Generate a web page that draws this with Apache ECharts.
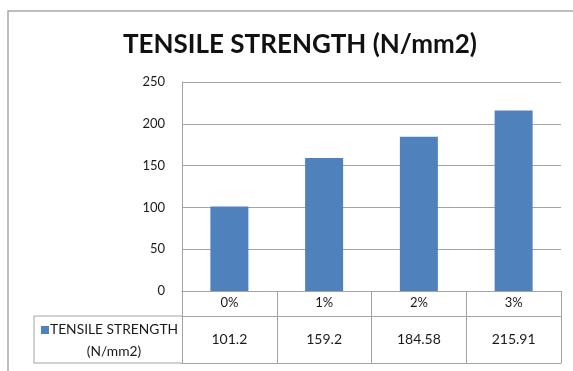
<!DOCTYPE html>
<html>
<head>
<meta charset="utf-8">
<style>
  html, body { margin: 0; padding: 0; background: #ffffff; }
  #chart { width: 573px; height: 371px; }
</style>
<script src="https://cdn.jsdelivr.net/npm/echarts@6/dist/echarts.min.js"></script>
</head>
<body>
<div id="chart"></div>
<script>
// Tensile strength for each additive percentage
const categories = ['0%', '1%', '2%', '3%'];
const tensileStrength = [101.2, 159.2, 184.58, 215.91];
const seriesName = 'TENSILE STRENGTH (N/mm2)';
const yTicks = [0, 50, 100, 150, 200, 250];

// Layout of the plot and its data table
const GRID_LEFT = 182, GRID_RIGHT = 12, GRID_TOP = 82, GRID_BOTTOM = 80;
const ROW1 = 25, ROW2 = 47;            // heights of the category row and value row
const LEGEND_CELL_LEFT = 34;
const BAR_COLOR = '#4f81bd';
const LINE_COLOR = '#a3a3a3';
const TEXT_COLOR = '#1a1a1a';
const FONT = 'Lato, "Open Sans", sans-serif';

const chart = echarts.init(document.getElementById('chart'), null, { renderer: 'canvas' });

const H = 371;
const tableTop = H - GRID_BOTTOM;
const rowSplit = tableTop + ROW1;
const tableBottom = rowSplit + ROW2;

chart.setOption({
  animation: false,
  backgroundColor: '#ffffff',
  title: {
    text: 'TENSILE STRENGTH (N/mm2)',
    top: 27,
    left: 295,
    textAlign: 'center',
    textStyle: { fontFamily: FONT, fontWeight: 'bold', fontSize: 26, color: '#111111' }
  },
  grid: { left: GRID_LEFT, right: GRID_RIGHT, top: GRID_TOP, bottom: GRID_BOTTOM },
  xAxis: [
    {
      // category row of the table
      type: 'category',
      data: categories,
      position: 'bottom',
      axisLine: { show: true, lineStyle: { color: LINE_COLOR, width: 1 } },
      axisTick: { show: true, interval: 0, length: ROW1, lineStyle: { color: LINE_COLOR } },
      axisLabel: { margin: 5, fontFamily: FONT, fontSize: 13, color: TEXT_COLOR },
      splitLine: { show: false }
    },
    {
      // value row of the table
      type: 'category',
      data: tensileStrength.map(String),
      position: 'bottom',
      offset: ROW1,
      axisLine: { show: true, lineStyle: { color: LINE_COLOR, width: 1 } },
      axisTick: { show: true, interval: 0, length: ROW2, lineStyle: { color: LINE_COLOR } },
      axisLabel: { margin: 16, fontFamily: FONT, fontSize: 14, color: TEXT_COLOR },
      splitLine: { show: false }
    },
    {
      // closing line of the table
      type: 'category',
      data: categories,
      position: 'bottom',
      offset: ROW1 + ROW2,
      axisLine: { show: true, lineStyle: { color: LINE_COLOR, width: 1 } },
      axisTick: { show: false },
      axisLabel: { show: false },
      splitLine: { show: false }
    }
  ],
  yAxis: {
    type: 'value',
    min: yTicks[0],
    max: yTicks[yTicks.length - 1],
    interval: yTicks[1] - yTicks[0],
    axisLine: { show: true, lineStyle: { color: LINE_COLOR, width: 1 } },
    axisTick: { show: false },
    axisLabel: { margin: 17, fontFamily: FONT, fontSize: 13, color: TEXT_COLOR },
    splitLine: { show: true, lineStyle: { color: LINE_COLOR, width: 1 } }
  },
  series: [
    {
      name: seriesName,
      type: 'bar',
      xAxisIndex: 0,
      data: tensileStrength,
      barWidth: 38,
      itemStyle: { color: BAR_COLOR }
    }
  ],
  graphic: [
    {
      // outer chart frame
      type: 'rect',
      shape: { x: 8, y: 11, width: 620, height: 420 },
      style: { fill: null, stroke: '#a8a8a8', lineWidth: 1.5 },
      silent: true
    },
    {
      // legend cell of the table
      type: 'polyline',
      shape: { points: [[GRID_LEFT, rowSplit], [LEGEND_CELL_LEFT, rowSplit], [LEGEND_CELL_LEFT, tableBottom], [GRID_LEFT, tableBottom]] },
      style: { fill: null, stroke: LINE_COLOR, lineWidth: 1 },
      silent: true
    },
    {
      type: 'rect',
      shape: { x: LEGEND_CELL_LEFT + 7, y: rowSplit + 10, width: 8, height: 8 },
      style: { fill: BAR_COLOR }
    },
    {
      type: 'text',
      style: {
        text: 'TENSILE STRENGTH',
        x: LEGEND_CELL_LEFT + 16, y: rowSplit + 14,
        textVerticalAlign: 'middle',
        font: '13.8px ' + FONT, fill: TEXT_COLOR
      }
    },
    {
      type: 'text',
      style: {
        text: '(N/mm2)',
        x: (LEGEND_CELL_LEFT + GRID_LEFT) / 2 + 6, y: rowSplit + 36,
        textAlign: 'center', textVerticalAlign: 'middle',
        font: '13.8px ' + FONT, fill: TEXT_COLOR
      }
    }
  ]
});
</script>
</body>
</html>
